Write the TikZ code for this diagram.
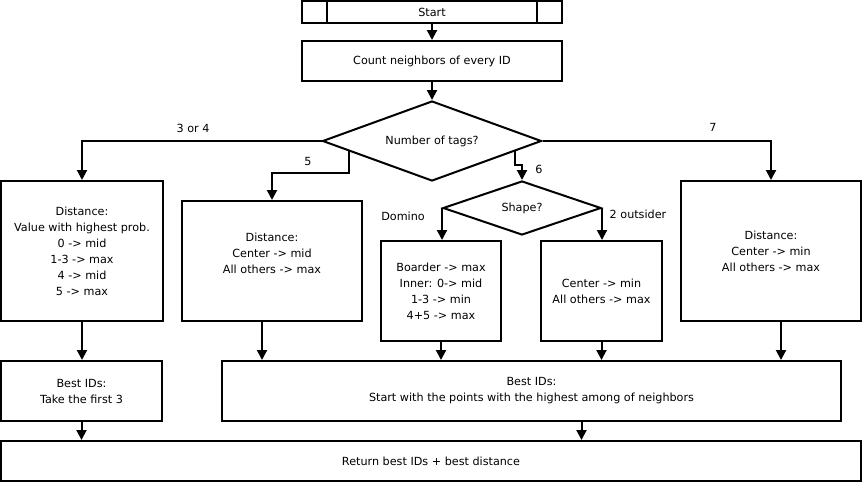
\documentclass[tikz,border=0pt]{standalone}
\usepackage{fontspec}
\setmainfont{DejaVu Sans}
\usetikzlibrary{shapes.geometric,arrows.meta,calc}

\begin{document}
\begin{tikzpicture}[
    x=0.75pt, y=-0.75pt,
    >={Triangle[length=7.5pt,width=7.5pt]},
    font=\fontsize{8.4}{12}\selectfont,
    box/.style={draw, rectangle, line width=1.5pt, align=center, inner sep=0pt},
    choice/.style={draw, diamond, aspect=2.7, line width=1.5pt, inner sep=0pt},
    lbl/.style={inner sep=0pt},
    arrow/.style={->, line width=1.5pt, draw=black}
]
  \useasboundingbox (0,0) rectangle (862,482);

  \node[box, minimum width=195pt, minimum height=16.5pt] (start) at (432,12) {Start};
  \draw[line width=1.5pt] ([xshift=19.5pt]start.north west) -- ([xshift=19.5pt]start.south west);
  \draw[line width=1.5pt] ([xshift=-19.5pt]start.north east) -- ([xshift=-19.5pt]start.south east);
  \node[box, minimum width=195pt, minimum height=30pt] (count) at (432,61) {Count neighbors of every ID};
  \node[choice, minimum width=164.25pt, minimum height=60pt] (tags) at (432,141) {Number of tags?};

  \node[box, minimum width=121.5pt, minimum height=105pt] (dist34) at (82,251) {Distance:\\Value with highest prob.\\0 -> mid\\1-3 -> max\\4 -> mid\\5 -> max};
  \node[box, minimum width=135pt, minimum height=90pt] (dist5) at (272,261) {Distance:\\Center -> mid\\All others -> max\\\mbox{}};
  \node[choice, minimum width=118.5pt, minimum height=40.5pt] (shape) at (522,208) {Shape?};
  \node[box, minimum width=90pt, minimum height=75pt] (domino) at (441,291) {Boarder -> max\\Inner: 0-> mid\\1-3 -> min\\4+5 -> max};
  \node[box, minimum width=90.75pt, minimum height=75pt] (outsider) at (601.5,291) {Center -> min\\All others -> max};
  \node[box, minimum width=135pt, minimum height=105pt] (dist7) at (771,251) {Distance:\\Center -> min\\All others -> max};

  \node[box, minimum width=120.75pt, minimum height=45pt] (best3) at (81.5,391) {Best IDs:\\Take the first 3};
  \node[box, minimum width=464.25pt, minimum height=45pt] (bestn) at (531.5,391) {Best IDs:\\Start with the points with the highest among of neighbors};
  \node[box, minimum width=645pt, minimum height=30pt] (result) at (431,461) {Return best IDs + best distance};

  \draw[arrow] (start) -- (count);
  \draw[arrow] (count) -- (tags);

  % branches of the number of tags
  \draw[arrow] (tags.west) -| (dist34.north);
  \draw[arrow] ($(tags.west)!0.25!(tags.south)$) -- ++(0,22) -| (dist5.north);
  \draw[arrow] ($(tags.east)!0.25!(tags.south)$) -- ++(0,14) -| (shape.north);
  \draw[arrow] (tags.east) -| (dist7.north);
  \draw[arrow] (shape.west) -- (shape.west |- domino.north);
  \draw[arrow] (shape.east) -- (shape.east |- outsider.north);

  \node[lbl] (l34) at (193,128) {3 or 4};
  \node[lbl] (l5) at (308,161) {5};
  \node[lbl] (l6) at (539,169) {6};
  \node[lbl] (ldomino) at (403,216) {Domino};
  \node[lbl] (loutsider) at (638,214) {2 outsider};
  \node[lbl] (l7) at (713,127) {7};

  % down to the best IDs
  \draw[arrow] (dist34.south) -- (dist34.south |- best3.north);
  \draw[arrow] ([xshift=-7.5pt]dist5.south) -- ([xshift=-7.5pt]dist5.south |- bestn.north);
  \draw[arrow] (domino.south) -- (domino.south |- bestn.north);
  \draw[arrow] (outsider.south) -- (outsider.south |- bestn.north);
  \draw[arrow] ([xshift=7.5pt]dist7.south) -- ([xshift=7.5pt]dist7.south |- bestn.north);
  \draw[arrow] (best3.south) -- (best3.south |- result.north);
  \draw[arrow] ([xshift=37.5pt]bestn.south) -- ([xshift=37.5pt]bestn.south |- result.north);
\end{tikzpicture}
\end{document}
